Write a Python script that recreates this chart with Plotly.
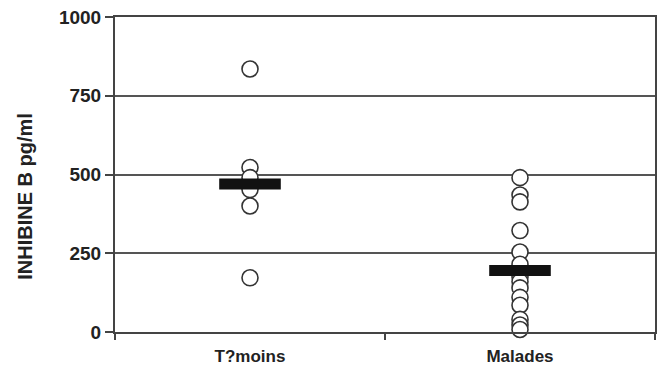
import plotly.graph_objects as go

categories = ["T?moins", "Malades"]
temoins_values = [835, 522, 490, 452, 400, 172]
malades_values = [490, 435, 413, 322, 254, 215, 175, 160, 140, 110, 85, 40, 22, 8]
group_means = [470, 195]
y_ticks = [0, 250, 500, 750, 1000]
y_title = "INHIBINE B pg/ml"

fig = go.Figure()

circle_style = dict(symbol="circle", size=16, color="white",
                    line=dict(color="#333333", width=1.6))

fig.add_trace(go.Scatter(x=[categories[0]] * len(temoins_values), y=temoins_values,
                         mode="markers", marker=circle_style, showlegend=False,
                         cliponaxis=False))
fig.add_trace(go.Scatter(x=[categories[1]] * len(malades_values), y=malades_values,
                         mode="markers", marker=circle_style, showlegend=False,
                         cliponaxis=False))
fig.add_trace(go.Scatter(x=categories, y=group_means, mode="markers",
                         marker=dict(symbol="line-ew", size=44,
                                     line=dict(color="#111111", width=11)),
                         showlegend=False))

font_main = "Liberation Sans, Arial, sans-serif"

fig.update_layout(
    width=663, height=371,
    margin=dict(l=115, r=8, t=17, b=39),
    paper_bgcolor="white", plot_bgcolor="white",
    font=dict(family=font_main, color="#222222"),
    xaxis=dict(
        type="category", categoryorder="array", categoryarray=categories,
        range=[-0.5, 1.5], showline=True, linecolor="#444444", linewidth=2,
        mirror=True, showgrid=False, ticks="outside", tickson="boundaries",
        ticklen=6, tickwidth=1.5, tickcolor="#444444", automargin=False,
        ticklabelstandoff=8,
        tickfont=dict(size=17, family=font_main, color="#222222", weight="bold"),
        zeroline=False,
    ),
    yaxis=dict(
        range=[0, 1000], tickvals=y_ticks, showline=True, linecolor="#444444",
        linewidth=2, mirror=True, showgrid=True, gridcolor="#555555", gridwidth=1.6,
        ticks="outside", ticklen=8, tickwidth=1.5, tickcolor="#444444", automargin=False,
        tickfont=dict(size=19, family=font_main, color="#222222", weight="bold"),
        zeroline=False,
    ),
    annotations=[dict(
        text=y_title, textangle=-90, showarrow=False,
        xref="paper", yref="paper", x=-0.167, y=0.432,
        xanchor="center", yanchor="middle",
        font=dict(size=20, family=font_main, color="#222222", weight="bold"),
    )],
)

fig.write_html("out.html", post_script="document.body.style.margin='0';",
               config={"displayModeBar": False})
